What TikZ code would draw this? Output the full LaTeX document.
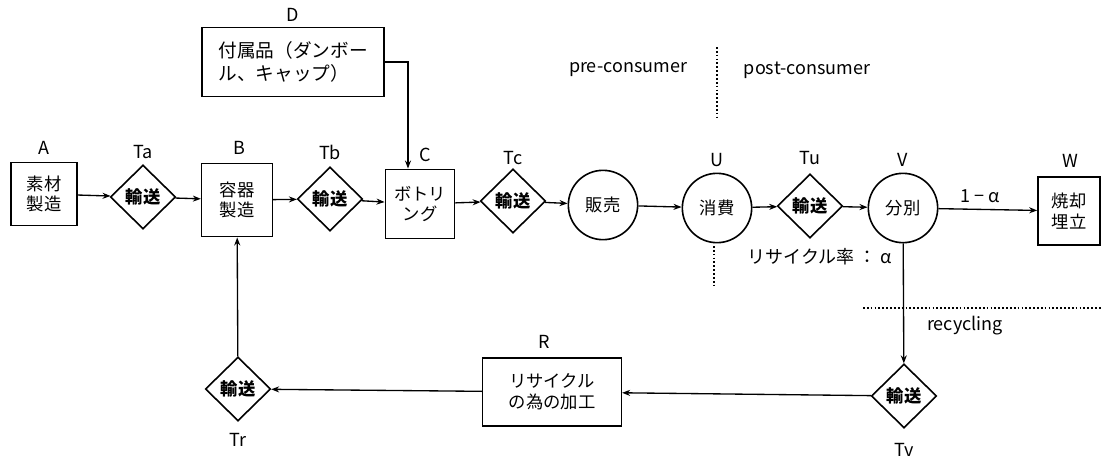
\documentclass[tikz,border=0pt]{standalone}
\usepackage{fontspec}
\setmainfont{Noto Sans CJK JP}
\usetikzlibrary{shapes.geometric,arrows.meta}
\begin{document}
\begin{tikzpicture}[x=0.75pt,y=-0.75pt,
  every node/.style={font=\fontsize{13pt}{15.5pt}\selectfont},
  box/.style={draw,line width=1.2pt,inner sep=0pt,align=center},
  dia/.style={diamond,draw,line width=1.2pt,inner sep=0pt,minimum width=49pt,minimum height=48pt,font=\fontsize{13pt}{15pt}\selectfont\bfseries},
  circ/.style={circle,draw,line width=1.2pt,inner sep=0pt,minimum size=52pt},
  lbl/.style={inner sep=0pt,font=\fontsize{13.5pt}{15pt}\selectfont},
  arr/.style={line width=1pt,-{Stealth[length=6pt,width=4.5pt]}},
  dots/.style={line width=1.3pt,dash pattern=on 1.3pt off 1.6pt}]
\useasboundingbox (0,0) rectangle (1101,457);
% main row
\node[box,minimum width=49.5pt,minimum height=47pt] (A) at (44,194) {素材\\製造};
\node[dia] (Ta) at (143,197) {輸送};
\node[box,minimum width=53pt,minimum height=55pt] (B) at (237,200) {容器\\製造};
\node[dia] (Tb) at (330,199) {輸送};
\node[box,minimum width=52pt,minimum height=52pt] (C) at (420,204) {ボトリ\\ング};
\node[dia] (Tc) at (513,201) {輸送};
\node[circ] (S) at (603,205) {販売};
\node[circ] (U) at (717,208) {消費};
\node[dia] (Tu) at (810,206) {輸送};
\node[circ] (V) at (903,208) {分別};
\node[box,minimum width=46.5pt,minimum height=51pt] (W) at (1069,211) {焼却\\埋立};
\node[draw,line width=1.2pt,inner sep=0pt,minimum width=136.5pt,minimum height=52pt,font=\fontsize{14pt}{17pt}\selectfont] (D) at (293,62) {\vbox{\hbox{付属品（ダンボー}\hbox{ル、キャップ）}}};
\node[box,minimum width=104pt,minimum height=51pt] (R) at (552,392) {リサイクル\\の為の加工};
\node[dia] (Tr) at (238,389) {輸送};
\node[dia] (Tv) at (904,396) {輸送};
% labels
\node[lbl] (lA) at (44,148) {A};
\node[lbl] (lTa) at (143,152) {Ta};
\node[lbl] (lB) at (239,148) {B};
\node[lbl] (lTb) at (330,152) {Tb};
\node[lbl] (lC) at (425,155) {C};
\node[lbl] (lTc) at (513,158) {Tc};
\node[lbl] (lU) at (717,160) {U};
\node[lbl] (lTu) at (810,158) {Tu};
\node[lbl] (lV) at (903,160) {V};
\node[lbl] (lW) at (1070,161) {W};
\node[lbl] (lD) at (293,15) {D};
\node[lbl] (lR) at (544,342) {R};
\node[lbl] (lTr) at (238,440) {Tr};
\node[lbl] (lTv) at (904,450) {Tv};
\node[lbl] (alpha1) at (980,196) {1 − α};
\node[lbl] (rate) at (820,257) {リサイクル率 ： α};
\node[lbl] (rec) at (965,326) {recycling};
\node[lbl] (pre) at (628,70) {pre-consumer};
\node[lbl] (post) at (807,70) {post-consumer};
% dotted divisions
\coordinate (d1a) at (717,47); \coordinate (d1b) at (717,118);
\coordinate (d2a) at (714,246); \coordinate (d2b) at (714,287);
\coordinate (d3a) at (863,308); \coordinate (d3b) at (1101,308);
\draw[dots] (d1a) -- (d1b);
\draw[dots] (d2a) -- (d2b);
\draw[dots] (d3a) -- (d3b);
% connectors
\draw[arr] (A) -- (Ta);
\draw[arr] (Ta) -- (B);
\draw[arr] (B) -- (Tb);
\draw[arr] (Tb) -- (C);
\draw[arr] (C) -- (Tc);
\draw[arr] (Tc) -- (S);
\draw[arr] (S) -- (U);
\draw[arr] (U) -- (Tu);
\draw[arr] (Tu) -- (V);
\draw[arr] (V) -- (W);
\draw[arr] (D.east) -| ([xshift=-9pt]C.north);
\draw[arr] (V) -- (Tv);
\draw[arr] (Tv) -- (R);
\draw[arr] (R) -- (Tr);
\draw[arr] (Tr) -- (B);
\end{tikzpicture}
\end{document}
